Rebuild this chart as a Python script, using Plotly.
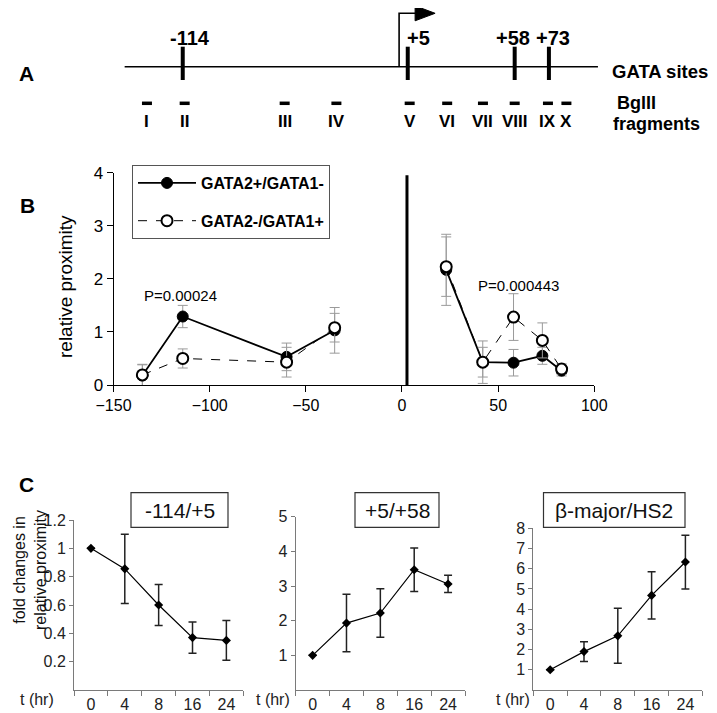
import plotly.graph_objects as go

REF_W, REF_H = 717, 713
OFF = 8                      # page body margin of the html page
W, H = REF_W - OFF, REF_H - OFF
FONT = "Liberation Sans, Arial, sans-serif"

# ---------------- data ----------------
# Panel A: diagram positions (bp, same scale as panel B)
gata_site_pos = [-114, 3, 58.6, 76.4]
gata_site_labels = ["-114", "+5", "+58", "+73"]
gata_label_dx_px = [7, 11, -2, 4]
tss_pos = -1.5
fragment_pos = [-132.6, -113, -61, -34.1, 4, 23.5, 42.1, 58.6, 75.9, 85.5]
fragment_labels = ["I", "II", "III", "IV", "V", "VI", "VII", "VIII", "IX", "X"]
line_start, line_end = -144.2, 101.9

# Panel B
b_pos = [-135, -114, -60, -35, None, 23, 42, 58, 73, 83]
g2_plus = [0.18, 1.29, 0.53, 1.03, None, 2.17, 0.43, 0.42, 0.55, 0.27]
g2_plus_err = [0.20, 0.21, 0.26, 0.43, 0, 0.67, 0.40, 0.25, 0.16, 0.10]
g1_plus = [0.19, 0.50, 0.43, 1.08, None, 2.23, 0.43, 1.28, 0.84, 0.30]
g1_plus_err = [0.20, 0.18, 0.28, 0.27, 0, 0.56, 0.28, 0.44, 0.33, 0.10]
b_divider_x = 2.6
p_texts = ["P=0.00024", "P=0.000443"]
p_pos = [(-115, 1.69), (60.7, 1.88)]

# Panel C
t_labels = ["0", "4", "8", "16", "24"]
c1 = [1.0, 0.855, 0.60, 0.37, 0.35]
c1_err = [0, 0.245, 0.145, 0.11, 0.14]
c2 = [1.0, 1.93, 2.22, 3.47, 3.06]
c2_err = [0, 0.83, 0.70, 0.63, 0.25]
c3 = [1.0, 1.90, 2.68, 4.68, 6.33]
c3_err = [0, 0.49, 1.36, 1.17, 1.33]
c_titles = ["-114/+5", "+5/+58", "β-major/HS2"]
c_yranges = [[0, 1.2], [0, 5], [0, 8]]
c_ytickvals = [[0.2, 0.4, 0.6, 0.8, 1.0, 1.2], [1, 2, 3, 4, 5], [1, 2, 3, 4, 5, 6, 7, 8]]

# ---------------- layout helpers (reference pixel -> paper) ----------------
def px(x):
    return (x - OFF) / W

def py(y):
    return 1 - (y - OFF) / H

# Panel B geometry (reference pixels)
bx0, bx1 = 113.5, 594.3
by0, by1 = 385, 172.7
brange = [-150, 100]
scale = (bx1 - bx0) / (brange[1] - brange[0])
a_range = [brange[0] - (bx0 - OFF) / scale, brange[1] + (REF_W - bx1) / scale]

fig = go.Figure()

# Panel B traces
fig.add_trace(go.Scatter(
    x=b_pos, y=g2_plus, mode="lines+markers", name="<b>GATA2+/GATA1-</b>",
    legendgroup="a",
    line=dict(color="black", width=1.8),
    marker=dict(symbol="circle", size=11, color="black", line=dict(color="black", width=1)),
    error_y=dict(type="data", array=g2_plus_err, color="#9a9a9a", thickness=1, width=5),
    xaxis="x", yaxis="y", connectgaps=False))
fig.add_trace(go.Scatter(
    x=b_pos, y=g1_plus, mode="lines+markers", name="<b>GATA2-/GATA1+</b>",
    legendgroup="b",
    line=dict(color="black", width=1, dash="dash"),
    marker=dict(symbol="circle", size=11, color="white", line=dict(color="black", width=2)),
    error_y=dict(type="data", array=g1_plus_err, color="#9a9a9a", thickness=1, width=5),
    xaxis="x", yaxis="y", connectgaps=False))

# Panel C traces
for i, (vals, errs) in enumerate([(c1, c1_err), (c2, c2_err), (c3, c3_err)]):
    fig.add_trace(go.Scatter(
        x=t_labels, y=vals, mode="lines+markers", showlegend=False,
        line=dict(color="black", width=1.2),
        marker=dict(symbol="diamond", size=7, color="black"),
        error_y=dict(type="data", array=errs, color="#222222", thickness=1.5, width=4),
        xaxis="x%d" % (i + 2), yaxis="y%d" % (i + 2)))

# invisible trace to activate overlay axes for panel A
fig.add_trace(go.Scatter(x=[a_range[0]], y=[REF_H], mode="markers", marker=dict(opacity=0),
                         showlegend=False, hoverinfo="skip", xaxis="x5", yaxis="y5"))

c_geom = [
    (74, 243.3, 690, 520),
    (295.7, 465, 690, 516.7),
    (533.3, 702.3, 690, 528.3),
]

layout = dict(
    width=W, height=H, margin=dict(l=0, r=0, t=0, b=0, autoexpand=False),
    paper_bgcolor="white", plot_bgcolor="rgba(0,0,0,0)",
    font=dict(family=FONT, color="black"),
    showlegend=True,
    legend=dict(x=px(132), y=py(165), xanchor="left", yanchor="top",
                bordercolor="#555555", borderwidth=1, bgcolor="white",
                font=dict(size=16, family=FONT, color="black"),
                tracegroupgap=14, itemwidth=58),
    xaxis=dict(domain=[px(bx0), px(bx1)], range=brange, anchor="y", automargin=False,
               showline=True, linecolor="black", linewidth=1, ticks="outside",
               ticklen=6, tickcolor="black", tickvals=[-150, -100, -50, 0, 50, 100],
               tickfont=dict(size=16), showgrid=False, zeroline=False),
    yaxis=dict(domain=[py(by0), py(by1)], range=[0, 4], anchor="x", automargin=False,
               showline=True, linecolor="black", linewidth=1, ticks="outside",
               ticklen=6, tickcolor="black", dtick=1, tickfont=dict(size=17),
               showgrid=False, zeroline=False),
    xaxis5=dict(domain=[0, 1], range=a_range, anchor="y5", visible=False, fixedrange=True,
                automargin=False),
    yaxis5=dict(domain=[0, 1], range=[REF_H, OFF], anchor="x5", visible=False,
                fixedrange=True, automargin=False),
)
for i, (x0, x1, yb, yt) in enumerate(c_geom):
    n = i + 2
    layout["xaxis%d" % n] = dict(
        domain=[px(x0), px(x1)], anchor="y%d" % n, type="category", automargin=False,
        range=[-0.5, 4.5], showline=True, linecolor="#7a7a7a", linewidth=1,
        ticks="outside", tickson="boundaries", ticklen=5, tickcolor="#7a7a7a",
        tickfont=dict(size=16, color="#222222"), showgrid=False, zeroline=False)
    layout["yaxis%d" % n] = dict(
        domain=[py(yb), py(yt)], anchor="x%d" % n, range=c_yranges[i], automargin=False,
        tickvals=c_ytickvals[i], showline=True, linecolor="#7a7a7a", linewidth=1,
        ticks="outside", ticklen=4, tickcolor="#7a7a7a",
        tickfont=dict(size=16, color="#222222"), showgrid=False, zeroline=False)
fig.update_layout(**layout)

shapes = []
ann = []

# ---------------- Panel A ----------------
ya_line = 66.7
shapes.append(dict(type="line", xref="x5", yref="y5", x0=line_start, x1=line_end,
                   y0=ya_line, y1=ya_line, line=dict(color="black", width=1.6)))
for xs, lab, dx in zip(gata_site_pos, gata_site_labels, gata_label_dx_px):
    shapes.append(dict(type="line", xref="x5", yref="y5", x0=xs, x1=xs, y0=46.7, y1=80,
                       line=dict(color="black", width=4)))
    ann.append(dict(xref="x5", yref="y5", x=xs + dx / scale, y=38, text="<b>%s</b>" % lab,
                    showarrow=False, font=dict(size=20), xanchor="center", yanchor="middle"))
# transcription start arrow
ya_arrow = 13.3
shapes.append(dict(type="path", xref="x5", yref="y5",
                   path="M %f,%f L %f,%f L %f,%f" % (tss_pos, ya_line, tss_pos, ya_arrow,
                                                       tss_pos + 17 / scale, ya_arrow),
                   line=dict(color="black", width=1.6)))
hx0 = tss_pos + 16 / scale
hx1 = tss_pos + 36 / scale
shapes.append(dict(type="path", xref="x5", yref="y5",
                   path="M %f,%f L %f,%f L %f,%f Z" % (hx0, ya_arrow - 7.5, hx1, ya_arrow,
                                                         hx0, ya_arrow + 7.5),
                   fillcolor="black", line=dict(color="black", width=1)))
# fragments
for xf, lab in zip(fragment_pos, fragment_labels):
    shapes.append(dict(type="line", xref="x5", yref="y5", x0=xf - 5 / scale, x1=xf + 5 / scale,
                       y0=103.3, y1=103.3, line=dict(color="black", width=3.5)))
    ann.append(dict(xref="x5", yref="y5", x=xf, y=121, text="<b>%s</b>" % lab,
                    showarrow=False, font=dict(size=17), xanchor="center", yanchor="middle"))
ann.append(dict(xref="paper", yref="paper", x=px(610), y=py(71), text="<b>GATA sites</b>",
                showarrow=False, font=dict(size=18.5), xanchor="left", yanchor="middle"))
ann.append(dict(xref="paper", yref="paper", x=px(615), y=py(103), text="<b>BglII</b>",
                showarrow=False, font=dict(size=18), xanchor="left", yanchor="middle"))
ann.append(dict(xref="paper", yref="paper", x=px(611), y=py(124), text="<b>fragments</b>",
                showarrow=False, font=dict(size=18), xanchor="left", yanchor="middle"))

# panel letters
for letter, (lx, ly) in zip(["A", "B", "C"], [(26, 73), (27, 205), (26, 484)]):
    ann.append(dict(xref="paper", yref="paper", x=px(lx), y=py(ly), text="<b>%s</b>" % letter,
                    showarrow=False, font=dict(size=21), xanchor="center", yanchor="middle"))

# ---------------- Panel B extras ----------------
shapes.append(dict(type="line", xref="x", yref="y", x0=b_divider_x, x1=b_divider_x,
                   y0=0, y1=3.95, line=dict(color="black", width=3)))
for t, (xx, yy) in zip(p_texts, p_pos):
    ann.append(dict(xref="x", yref="y", x=xx, y=yy, text=t, showarrow=False,
                    font=dict(size=15), xanchor="center", yanchor="middle"))
ann.append(dict(xref="paper", yref="paper", x=px(65), y=py(287), text="relative proximity",
                textangle=-90, showarrow=False, font=dict(size=19), xanchor="center",
                yanchor="middle"))

# ---------------- Panel C extras ----------------
box_geom = [(131, 228), (355, 439), (543.5, 685)]
for t, (bx_l, bx_r) in zip(c_titles, box_geom):
    shapes.append(dict(type="rect", xref="paper", yref="paper", x0=px(bx_l), x1=px(bx_r),
                       y0=py(527.3), y1=py(492.7), line=dict(color="#333333", width=1.2),
                       fillcolor="white", layer="below"))
    ann.append(dict(xref="paper", yref="paper", x=px((bx_l + bx_r) / 2), y=py(510),
                    text=t, showarrow=False, font=dict(size=21, color="#111111"),
                    xanchor="center", yanchor="middle"))
for cx in [37, 273, 513]:
    ann.append(dict(xref="paper", yref="paper", x=px(cx), y=py(699), text="t (hr)",
                    showarrow=False, font=dict(size=16, color="#222222"),
                    xanchor="center", yanchor="middle"))
ann.append(dict(xref="paper", yref="paper", x=px(30), y=py(570),
                text="fold changes in<br>relative proximity", textangle=-90,
                showarrow=False, font=dict(size=16, color="#111111"),
                xanchor="center", yanchor="middle"))

fig.update_layout(shapes=shapes, annotations=ann)
fig.write_html("out.html")
